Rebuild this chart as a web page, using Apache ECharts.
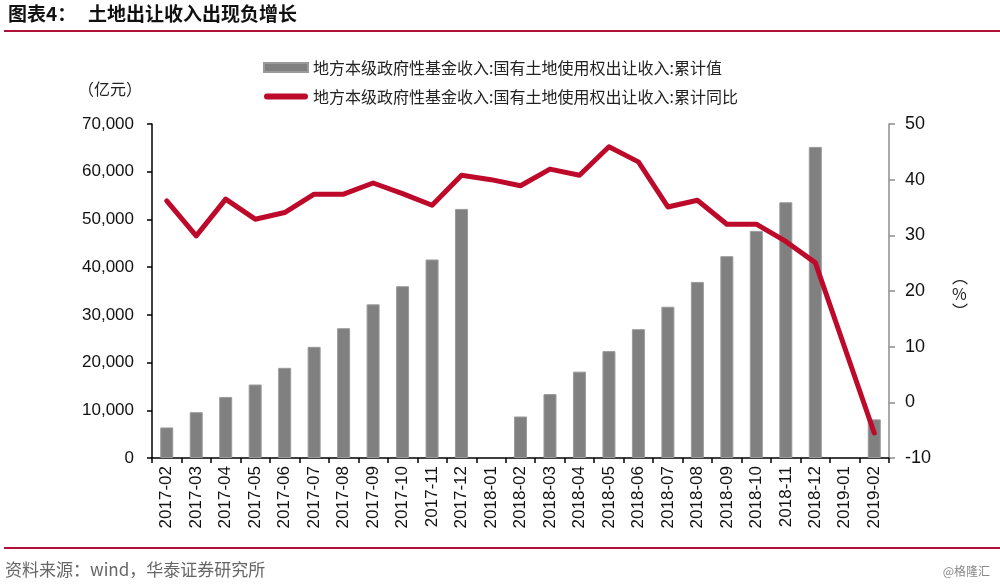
<!DOCTYPE html>
<html>
<head>
<meta charset="utf-8">
<script src="https://cdn.jsdelivr.net/npm/echarts@6/dist/echarts.min.js"></script>
<style>
html,body{margin:0;padding:0;background:#fff;}
#chart{width:1000px;height:586px;}
</style>
</head>
<body>
<div id="chart"></div>
<script>
const categories = ['2017-02','2017-03','2017-04','2017-05','2017-06','2017-07','2017-08','2017-09','2017-10','2017-11','2017-12','2018-01','2018-02','2018-03','2018-04','2018-05','2018-06','2018-07','2018-08','2018-09','2018-10','2018-11','2018-12','2019-01','2019-02'];
const barValues = [6400, 9600, 12800, 15400, 18900, 23300, 27200, 32200, 36000, 41600, 52200, null, 8700, 13400, 18100, 22400, 27000, 31700, 36900, 42300, 47600, 53600, 65200, null, 8100];
const lineValues = [36.2, 29.9, 36.5, 32.9, 34.1, 37.4, 37.4, 39.4, 37.5, 35.4, 40.8, 40.0, 38.9, 41.9, 40.8, 45.9, 43.2, 35.1, 36.3, 32.0, 32.0, 28.9, 25.1, null, -5.5];
const barName = '地方本级政府性基金收入:国有土地使用权出让收入:累计值';
const lineName = '地方本级政府性基金收入:国有土地使用权出让收入:累计同比';

const CJK = '"Noto Sans CJK SC", sans-serif';
const LAT = '"Liberation Sans", Arial, sans-serif';
const RED = '#BE0A2A';

const chart = echarts.init(document.getElementById('chart'), null, {renderer: 'canvas'});
chart.setOption({
  animation: false,
  backgroundColor: '#fff',
  grid: {left: 152, right: 111, top: 124, bottom: 128, containLabel: false},
  legend: {
    orient: 'vertical',
    left: 258,
    top: 54,
    itemWidth: 44,
    itemHeight: 9,
    itemGap: 12,
    textStyle: {fontFamily: CJK, fontSize: 16, color: '#222', lineHeight: 17},
    data: [
      {name: barName, icon: 'rect'},
      {name: lineName, icon: 'path://M3,0 L41,0 A3,3 0 0 1 41,6 L3,6 A3,3 0 0 1 3,0 Z'}
    ]
  },
  xAxis: {
    type: 'category',
    data: categories,
    axisLine: {lineStyle: {color: '#000', width: 1.5}},
    axisTick: {show: true, alignWithLabel: false, length: 5, lineStyle: {color: '#000', width: 1.5}},
    axisLabel: {rotate: 90, margin: 8, fontFamily: LAT, fontSize: 17, color: '#111', interval: 0}
  },
  yAxis: [
    {
      type: 'value', min: 0, max: 70000, interval: 10000,
      axisLine: {show: true, lineStyle: {color: '#000', width: 1.5}},
      axisTick: {show: true, length: 5, lineStyle: {color: '#000', width: 1.5}},
      splitLine: {show: false},
      axisLabel: {margin: 18, fontFamily: LAT, fontSize: 17, color: '#111',
        formatter: v => v.toLocaleString('en-US')}
    },
    {
      type: 'value', min: -10, max: 50, interval: 10,
      position: 'right',
      axisLine: {show: true, lineStyle: {color: '#8c8c8c', width: 1.5}},
      axisTick: {show: true, length: 6, lineStyle: {color: '#8c8c8c', width: 1.5}},
      splitLine: {show: false},
      axisLabel: {margin: 16, fontFamily: LAT, fontSize: 18, color: '#111'}
    }
  ],
  series: [
    {
      name: barName, type: 'bar', yAxisIndex: 0, data: barValues,
      barWidth: 13,
      itemStyle: {color: '#808080', borderColor: '#9a9a9a', borderWidth: 1}
    },
    {
      name: lineName, type: 'line', yAxisIndex: 1, data: lineValues,
      connectNulls: true, symbol: 'none', smooth: false,
      lineStyle: {color: RED, width: 5, join: 'round', cap: 'round'},
      itemStyle: {color: RED}
    }
  ],
  graphic: [
    {type: 'text', left: 8, top: 4, style: {text: '图表4：', font: 'bold 19px ' + CJK, fill: '#111'}},
    {type: 'text', left: 88, top: 4, style: {text: '土地出让收入出现负增长', font: 'bold 19px ' + CJK, fill: '#111'}},
    {type: 'line', shape: {x1: 4, y1: 31, x2: 1000, y2: 31}, style: {stroke: '#B0123A', lineWidth: 2}},
    {type: 'text', left: 78, top: 81, style: {text: '（亿元）', font: '16px ' + CJK, fill: '#222'}},
    {type: 'text', left: 952, top: 268, style: {text: '︵\n%\n︶', font: '16px ' + CJK, fill: '#222', lineHeight: 17, align: 'center'}},
    {type: 'line', shape: {x1: 4, y1: 548, x2: 1000, y2: 548}, style: {stroke: '#B0123A', lineWidth: 2}},
    {type: 'text', left: 5, top: 561, style: {text: '资料来源：wind，华泰证券研究所', font: '17px ' + CJK, fill: '#666'}},
    {type: 'text', right: 10, top: 565, style: {text: '@格隆汇', font: '12px ' + CJK, fill: '#888'}}
  ]
});
</script>
</body>
</html>
